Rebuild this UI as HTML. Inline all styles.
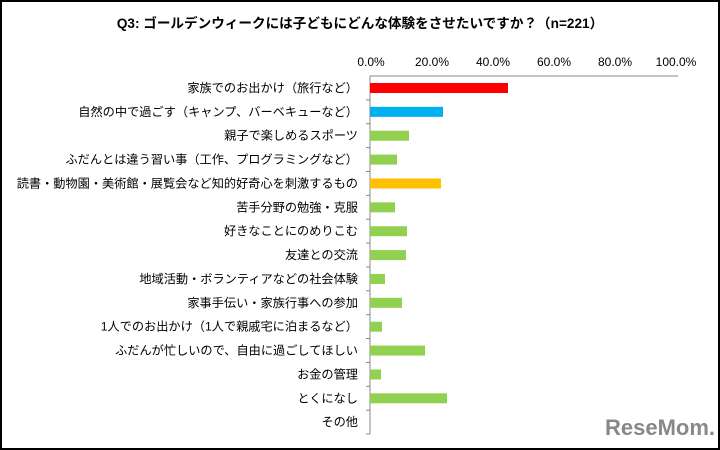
<!DOCTYPE html><html><head><meta charset="utf-8"><style>
body{margin:0;background:#fff}
.f{position:relative;width:716px;height:446px;border:2px solid #000;overflow:hidden;font-family:"Liberation Sans","Noto Sans CJK JP",sans-serif}
</style></head><body><div class="f">
<svg width="716" height="446" viewBox="2 2 716 446" xmlns="http://www.w3.org/2000/svg" style="position:absolute;left:0;top:0">
<text x="360" y="28" text-anchor="middle" font-size="13.6" font-weight="bold" font-family="Liberation Sans,Noto Sans CJK JP,sans-serif">Q3: ゴールデンウィークには子どもにどんな体験をさせたいですか？（n=221）</text>
<g font-size="12" text-anchor="middle" font-family="Liberation Sans,sans-serif">
<text x="371" y="66">0.0%</text><text x="432" y="66">20.0%</text><text x="493" y="66">40.0%</text><text x="554" y="66">60.0%</text><text x="615" y="66">80.0%</text><text x="676" y="66">100.0%</text></g>
<line x1="370" y1="76" x2="678" y2="76" stroke="#888"/>
<line x1="370" y1="76" x2="370" y2="434" stroke="#888"/>
<g stroke="#888" id="t"></g>
<g id="b"></g>
<g id="l" font-size="12.2" text-anchor="end" font-family="Liberation Sans,Noto Sans CJK JP,sans-serif"></g>
<text x="660" y="435" text-anchor="middle" font-size="22" font-weight="bold" fill="#888" font-family="Liberation Sans,sans-serif">ReseMom.</text>
</svg>
<script>
var L=["家族でのお出かけ（旅行など）","自然の中で過ごす（キャンプ、バーベキューなど）","親子で楽しめるスポーツ","ふだんとは違う習い事（工作、プログラミングなど）","読書・動物園・美術館・展覧会など知的好奇心を刺激するもの","苦手分野の勉強・克服","好きなことにのめりこむ","友達との交流","地域活動・ボランティアなどの社会体験","家事手伝い・家族行事への参加","1人でのお出かけ（1人で親戚宅に泊まるなど）","ふだんが忙しいので、自由に過ごしてほしい","お金の管理","とくになし","その他"];
var E=[508,443,409,397,441,395,407,406,385,402,382,425,381,447,370];
var b="",l="",t="";
for(var i=0;i<15;i++){var y=76+i*23.87;var c=i==0?"#ff0000":i==1?"#00b0f0":i==4?"#ffc000":"#92d050";
if(E[i]>370)b+='<rect x="370" y="'+(y+7)+'" width="'+(E[i]-370)+'" height="10" fill="'+c+'"/>';
l+='<text x="358" y="'+(y+16)+'">'+L[i]+'</text>';
t+='<line x1="366" y1="'+(y+23.87)+'" x2="370" y2="'+(y+23.87)+'"/>';}
document.getElementById("b").innerHTML=b;document.getElementById("l").innerHTML=l;document.getElementById("t").innerHTML=t;
</script>
</div></body></html>
